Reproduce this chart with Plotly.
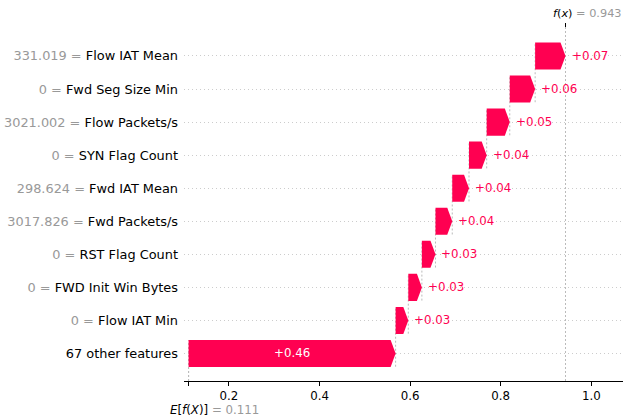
import plotly.graph_objects as go

# ---------------- data ----------------
feature_names = ["Flow IAT Mean", "Fwd Seg Size Min", "Flow Packets/s", "SYN Flag Count",
                 "Fwd IAT Mean", "Fwd Packets/s", "RST Flag Count", "FWD Init Win Bytes",
                 "Flow IAT Min"]
feature_values = ["331.019", "0", "3021.002", "0", "298.624", "3017.826", "0", "0", "0"]
shap_values = [0.067, 0.056, 0.051, 0.039, 0.037, 0.037, 0.030, 0.030, 0.028]
other_label = "67 other features"
other_value = 0.457
base_value = 0.111
fx_value = 0.943
x_ticks = [0.2, 0.4, 0.6, 0.8, 1.0]
x_tick_labels = ["0.2", "0.4", "0.6", "0.8", "1.0"]

# ---------------- styling ----------------
RED = "#ff0051"
GRAY_TXT = "#999999"
FONT = "DejaVu Sans"
HALF_H = 0.41
HEAD = 0.011
XR = [0.1009, 1.0699]
YR = [-0.832, 9.876]

# rows from top to bottom: individual features, then the rest
names = feature_names + [other_label]
vals = shap_values + [other_value]
n = len(names)
rows = list(range(n - 1, -1, -1))  # y positions

fig = go.Figure()
shapes = []
annotations = []

# compute bar lefts walking down from f(x)
loc = fx_value
lefts = []
for v in vals:
    loc -= v
    lefts.append(loc)

for i, (v, left, y) in enumerate(zip(vals, lefts, rows)):
    right = left + v
    hl = min(HEAD, v)
    xs = [left, right - hl, right, right - hl, left, left]
    ys = [y - HALF_H, y - HALF_H, y, y + HALF_H, y + HALF_H, y - HALF_H]
    fig.add_trace(go.Scatter(x=xs, y=ys, mode="lines", fill="toself",
                             fillcolor=RED, line=dict(width=0, color=RED),
                             hoverinfo="skip", showlegend=False))
    # connecting line
    shapes.append(dict(type="line", xref="x", yref="y", x0=left, x1=left,
                       y0=max(y - 1 - 0.4, YR[0]), y1=y + 0.4, layer="below",
                       line=dict(color="#bbbbbb", width=1, dash="2px,2px")))
    label = f"+{v:.2f}"
    if v > 0.2:
        annotations.append(dict(x=left + v / 2, y=y, xref="x", yref="y", text=label,
                                showarrow=False, xanchor="center", yanchor="middle",
                                font=dict(family=FONT, size=11.8, color="white")))
    else:
        annotations.append(dict(x=right, y=y, xref="x", yref="y", text=label,
                                showarrow=False, xanchor="left", yanchor="middle",
                                xshift=4,
                                font=dict(family=FONT, size=11.8, color=RED)))

# f(x) vertical line and top tick
shapes.append(dict(type="line", xref="x", yref="paper", x0=fx_value, x1=fx_value,
                   y0=0, y1=1, layer="below",
                   line=dict(color="#bbbbbb", width=1, dash="2px,2px")))
shapes.append(dict(type="line", xref="x", yref="paper", x0=fx_value, x1=fx_value,
                   y0=1, y1=1 + 4 / 354, line=dict(color="black", width=1)))
# base line
shapes.append(dict(type="line", xref="x", yref="paper", x0=base_value, x1=base_value,
                   y0=0, y1=0.1, layer="below",
                   line=dict(color="#bbbbbb", width=1, dash="2px,2px")))

annotations.append(dict(x=1, y=1 + 14 / 354, xref="paper", yref="paper",
                        text=f"<i>f</i>(<i>x</i>)<span style='color:{GRAY_TXT}'> = {fx_value:.3f}</span>",
                        showarrow=False, xanchor="right", yanchor="middle", xshift=1,
                        font=dict(family=FONT, size=11.3, color="black")))
annotations.append(dict(x=base_value, y=-29 / 354, xref="x", yref="paper",
                        text=f"<i>E</i>[<i>f</i>(<i>X</i>)]<span style='color:{GRAY_TXT}'> = {base_value:.3f}</span>",
                        showarrow=False, xanchor="left", yanchor="middle", xshift=-21,
                        font=dict(family=FONT, size=11.8, color="black")))

ticktext = [f"<span style='color:{GRAY_TXT}'>{fv} = </span>{nm}"
            for fv, nm in zip(feature_values, feature_names)] + [other_label]

fig.update_layout(
    width=623, height=418,
    margin=dict(l=184, r=0, t=27, b=37),
    paper_bgcolor="white", plot_bgcolor="white",
    font=dict(family=FONT, color="black"),
    shapes=shapes, annotations=annotations,
    showlegend=False,
    xaxis=dict(range=XR, showgrid=False, zeroline=False, showline=True,
               linecolor="black", linewidth=1, ticks="outside", ticklen=4,
               tickcolor="black", tickwidth=1,
               tickvals=[base_value] + x_ticks, ticktext=[""] + x_tick_labels,
               tickfont=dict(family=FONT, size=11.8, color="black")),
    yaxis=dict(range=YR, showgrid=True, gridcolor="#cccccc", gridwidth=1,
               griddash="1px,3px", zeroline=False, showline=False,
               tickvals=rows, ticktext=ticktext, ticks="", ticklabelstandoff=5,
               tickfont=dict(family=FONT, size=12.9, color="black")),
)

fig.write_html("out.html")
